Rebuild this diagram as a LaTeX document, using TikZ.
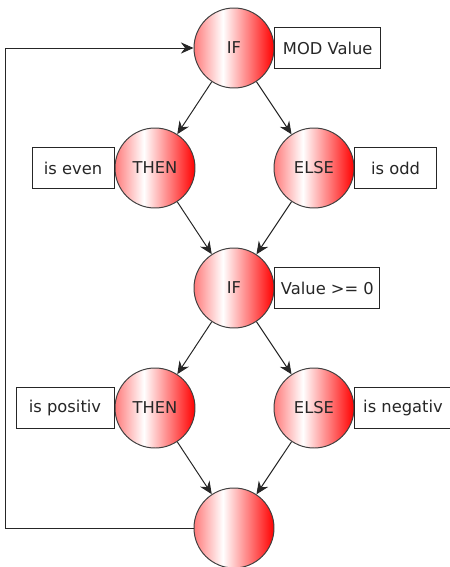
\documentclass[tikz,border=0pt]{standalone}
\usepackage{fontspec}
\setmainfont{DejaVu Sans}
\usepackage{tikz}
\usetikzlibrary{arrows.meta,positioning}
\pgfdeclarehorizontalshading{redball}{100bp}{color(0bp)=(red!52); color(25bp)=(red!52); color(43bp)=(white); color(75bp)=(red); color(100bp)=(red)}

\begin{document}
\begin{tikzpicture}[
    ball/.style={circle, draw=black!75, line width=0.7pt, minimum size=2cm, inner sep=0pt, shading=redball, text=black!85, font=\fontsize{11.6}{13}\selectfont},
    cond/.style={draw=black!85, line width=0.7pt, fill=white, minimum height=1.02cm, inner xsep=0.2cm, text=black!85, font=\fontsize{11.6}{13}\selectfont},
    arr/.style={-{Stealth[length=9pt, width=8pt, inset=3pt]}, black!85, line width=0.7pt},
    loop/.style={arr}
]
\useasboundingbox (0,0) rectangle (11.225,-14.175);

\node[ball] (c-if1) at (5.85, -1.2) {IF};
\node[cond, anchor=west] (b-mod) at (c-if1.east) {MOD Value};

\node[ball] (c-then1) at (3.875, -4.2) {THEN};
\node[cond, anchor=east, minimum width=2.05cm] (b-even) at (c-then1.west) {is even};
\node[ball] (c-else1) at (7.85, -4.2) {ELSE};
\node[cond, anchor=west, minimum width=2.03cm] (b-odd) at (c-else1.east) {is odd};

\node[ball] (c-if2) at (5.85, -7.2) {IF};
\node[cond, anchor=west, inner xsep=0.15cm] (b-sign) at (c-if2.east) {Value >= 0};

\node[ball] (c-then2) at (3.875, -10.2) {THEN};
\node[cond, anchor=east, minimum width=2.45cm] (b-pos) at (c-then2.west) {is positiv};
\node[ball] (c-else2) at (7.85, -10.2) {ELSE};
\node[cond, anchor=west, minimum width=2.4cm] (b-neg) at (c-else2.east) {is negativ};

\node[ball] (c-end) at (5.85, -13.2) {};

\foreach \a/\b in {c-if1/c-then1, c-if1/c-else1, c-then1/c-if2, c-else1/c-if2, c-if2/c-then2, c-if2/c-else2, c-then2/c-end, c-else2/c-end}
    \draw[arr] (\a) -- (\b);
% back to the top
\draw[loop] (c-end.west) -- ++(-4.7,0) |- (c-if1.west);
\end{tikzpicture}
\end{document}
